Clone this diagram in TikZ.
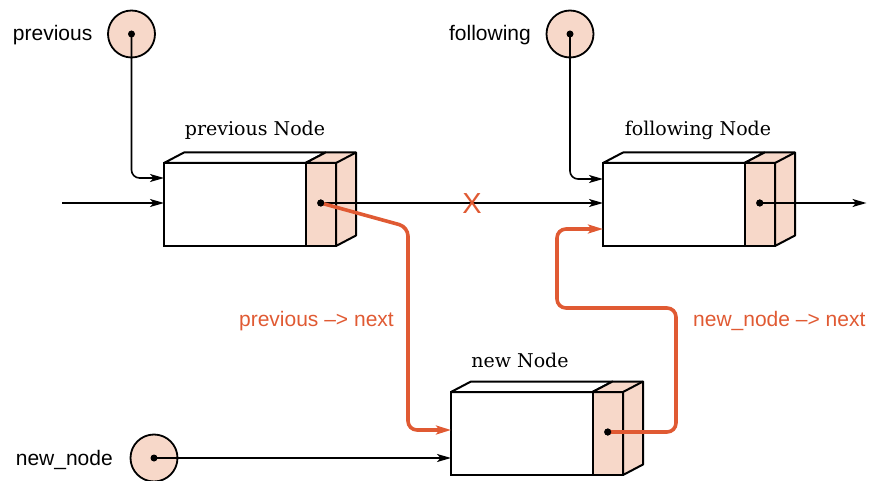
\documentclass[tikz,border=0pt]{standalone}
\usepackage{fontspec}
\setmainfont{DejaVu Serif}
\setsansfont{Liberation Sans}
\usetikzlibrary{arrows.meta,calc}
\definecolor{pinkc}{RGB}{247,216,201}
\definecolor{orangec}{RGB}{224,90,51}
\tikzset{
  lab/.style={font=\sffamily\fontsize{21}{21}\selectfont, inner sep=0pt},
  olab/.style={lab, text=orangec},
  titlelab/.style={font=\fontsize{19}{19}\selectfont, inner sep=0pt},
  frontbox/.style={draw, line width=2pt, fill=white, minimum width=141.5pt, minimum height=83pt, inner sep=0pt, outer sep=0pt},
  ptrbox/.style={draw, line width=2pt, fill=pinkc, minimum width=30.5pt, minimum height=83pt, inner sep=0pt, outer sep=0pt},
  edgethree/.style={line width=2pt, line join=round},
  ptrdot/.style={circle, fill=black, inner sep=0pt, minimum size=7pt},
  varc/.style={circle, draw, line width=1.8pt, fill=pinkc, minimum size=47pt, inner sep=0pt},
  link/.style={line width=1.6pt, -{Stealth[length=14pt,width=8pt,inset=3.5pt]}},
  olink/.style={line width=3.6pt, orangec, rounded corners=9pt, -{Stealth[length=15pt,width=9pt,inset=3.5pt]}},
}
\newcommand{\llnode}[2]{%
  \node[frontbox, anchor=north west] (#1box) at (#2) {};
  \node[ptrbox, anchor=north west] (#1p) at (#1box.north east) {};
  \filldraw[edgethree, fill=white] (#1box.north west) -- ([shift={(20,-10.5)}]#1box.north west) -- ([shift={(20,-10.5)}]#1box.north east) -- (#1box.north east) -- cycle;
  \filldraw[edgethree, fill=pinkc] (#1p.north west) -- ([shift={(20,-10.5)}]#1p.north west) -- ([shift={(20,-10.5)}]#1p.north east) -- ([shift={(20,-10.5)}]#1p.south east) -- (#1p.south east) -- (#1p.north east) -- cycle;
  \draw[edgethree] (#1p.north east) -- ([shift={(20,-10.5)}]#1p.north east);
  \node[ptrdot] (#1d) at ([yshift=1.5pt]#1p.center) {};
}
\begin{document}
\begin{tikzpicture}[x=1pt,y=-1pt]
\useasboundingbox (0,0) rectangle (873,481);

% variable circles and labels
\node[varc] (pc) at (131.5,34) {};
\node[lab, anchor=base east] (pl) at (92.5,41) {previous};
\node[varc] (fc) at (570,34) {};
\node[lab, anchor=base east] (fl) at (531,41) {following};
\node[varc] (nc) at (154,458) {};
\node[lab, anchor=base east] (nl) at (113,465) {new\_node};

% titles
\node[titlelab, anchor=base] (pt) at (255,136) {previous Node};
\node[titlelab, anchor=base] (ft) at (698,136) {following Node};
\node[titlelab, anchor=base] (nt) at (520,367) {new Node};

% boxes
\llnode{prev}{164,163}
\llnode{foll}{603,163}
\llnode{new}{451,392}

% black connectors
\coordinate (inL) at (62,203);
\coordinate (outR) at (866.5,203);
\draw[link] (inL) -- (inL -| prevbox.west);
\draw[link, rounded corners=8pt] (pc.center) |- ($(prevbox.north west)+(0,15)$);
\draw[link, rounded corners=8pt] (fc.center) |- ($(follbox.north west)+(0,16)$);
\draw[link] (prevd.center) -- (prevd -| follbox.west);
\draw[link] (folld.center) -- (folld -| outR);
\draw[link] (nc.center) -- (nc -| newbox.west);

% orange connectors
\coordinate (o1) at (408,227);
\coordinate (o2) at (676,308);
\coordinate (o3) at (557,308);
\draw[olink] (prevd.center) -- (o1) |- ($(newbox.north west)+(0,38)$);
\draw[olink] (newd.center) -| (o2) -- (o3) |- ($(follbox.north west)+(0,66)$);

% dots on top
\node[ptrdot] (pcd) at (pc.center) {};
\node[ptrdot] (fcd) at (fc.center) {};
\node[ptrdot] (ncd) at (nc.center) {};
\node[ptrdot] (prevd2) at (prevd.center) {};
\node[ptrdot] (folld2) at (folld.center) {};
\node[ptrdot] (newd2) at (newd.center) {};

% cross and orange labels
\node[text=orangec, font=\sffamily\fontsize{29}{29}\selectfont, inner sep=0pt] (xmark) at (472,204) {X};
\node[olab, anchor=base east] (ol1) at (394,326) {previous –> next};
\node[olab, anchor=base west] (ol2) at (693,326) {new\_node –> next};
\end{tikzpicture}
\end{document}
